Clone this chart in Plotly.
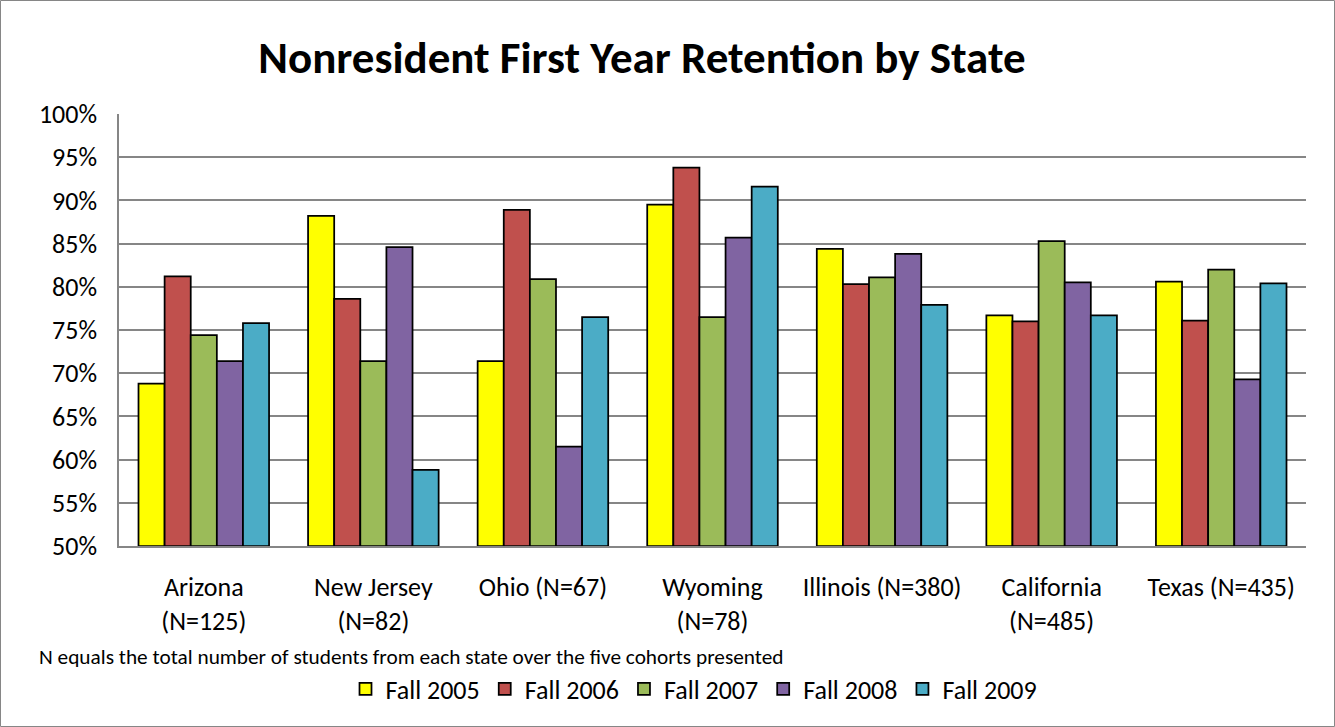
import plotly.graph_objects as go

categories = ["Arizona<br>(N=125)", "New Jersey<br>(N=82)", "Ohio (N=67)", "Wyoming<br>(N=78)",
              "Illinois (N=380)", "California<br>(N=485)", "Texas (N=435)"]
series_names = ["Fall 2005", "Fall 2006", "Fall 2007", "Fall 2008", "Fall 2009"]
fall_2005 = [68.8, 88.2, 71.4, 89.5, 84.4, 76.7, 80.6]
fall_2006 = [81.2, 78.6, 88.9, 93.8, 80.3, 76.0, 76.1]
fall_2007 = [74.4, 71.4, 80.9, 76.5, 81.1, 85.3, 82.0]
fall_2008 = [71.4, 84.6, 61.5, 85.7, 83.8, 80.5, 69.3]
fall_2009 = [75.8, 58.8, 76.5, 91.6, 77.9, 76.7, 80.4]
colors = ["#FFFF00", "#C0504D", "#9BBB59", "#8064A2", "#4BACC6"]
y_ticks = list(range(50, 101, 5))

FONT = "Carlito, Lato, sans-serif"
W, H = 1335, 727
ML, MR, MT, MB = 119, 29, 114, 181

fig = go.Figure()
for name, vals, col in zip(series_names, [fall_2005, fall_2006, fall_2007, fall_2008, fall_2009], colors):
    fig.add_trace(go.Bar(x=categories, y=[v - 50 for v in vals], base=50, name=name,
                         marker=dict(color=col, line=dict(color="#000000", width=1.75))))

pw = W - ML - MR
ph = H - MT - MB
def px2x(p):
    return (p - ML) / pw
def py2y(p):
    return 1 - (p - MT) / ph

fig.update_layout(
    width=W, height=H,
    margin=dict(l=ML, r=MR, t=MT, b=MB),
    paper_bgcolor="white", plot_bgcolor="white",
    barmode="group", bargap=0.23, bargroupgap=0,
    font=dict(family=FONT, color="#000000", size=26),
    title=dict(text="<b>Nonresident First Year Retention by State</b>",
               x=642 / W, xanchor="center",
               y=1 - 57 / H, yanchor="middle",
               font=dict(family=FONT, size=45, color="#000000")),
    xaxis=dict(showgrid=False, showline=True, linecolor="#868686", linewidth=1.5,
               ticks="", tickfont=dict(size=26), ticklabelstandoff=17),
    yaxis=dict(range=[50, 100], tickvals=y_ticks, ticktext=[f"{v}%" for v in y_ticks],
               showgrid=True, gridcolor="#868686", gridwidth=1.5,
               showline=True, linecolor="#868686", linewidth=1.5,
               ticks="", tickfont=dict(size=26), zeroline=False, ticklabelstandoff=15),
    legend=dict(orientation="h", x=px2x(694), xanchor="center", y=py2y(689), yanchor="middle",
                font=dict(size=26), itemwidth=30, traceorder="normal"),
    showlegend=True,
)
fig.add_annotation(text="N equals the total number of students from each state over the five cohorts presented",
                   xref="paper", yref="paper", x=px2x(37), y=py2y(657), xanchor="left", yanchor="middle",
                   showarrow=False, font=dict(size=21.3, family=FONT, color="#000000"))
fig.add_shape(type="rect", xref="paper", yref="paper",
              x0=px2x(0.5), x1=px2x(W - 0.5), y0=py2y(H - 0.5), y1=py2y(0.5),
              line=dict(color="#868686", width=1))
fig.write_html("out.html", config={"displayModeBar": False},
               post_script="document.body.style.margin='0';document.body.style.overflow='hidden';")
